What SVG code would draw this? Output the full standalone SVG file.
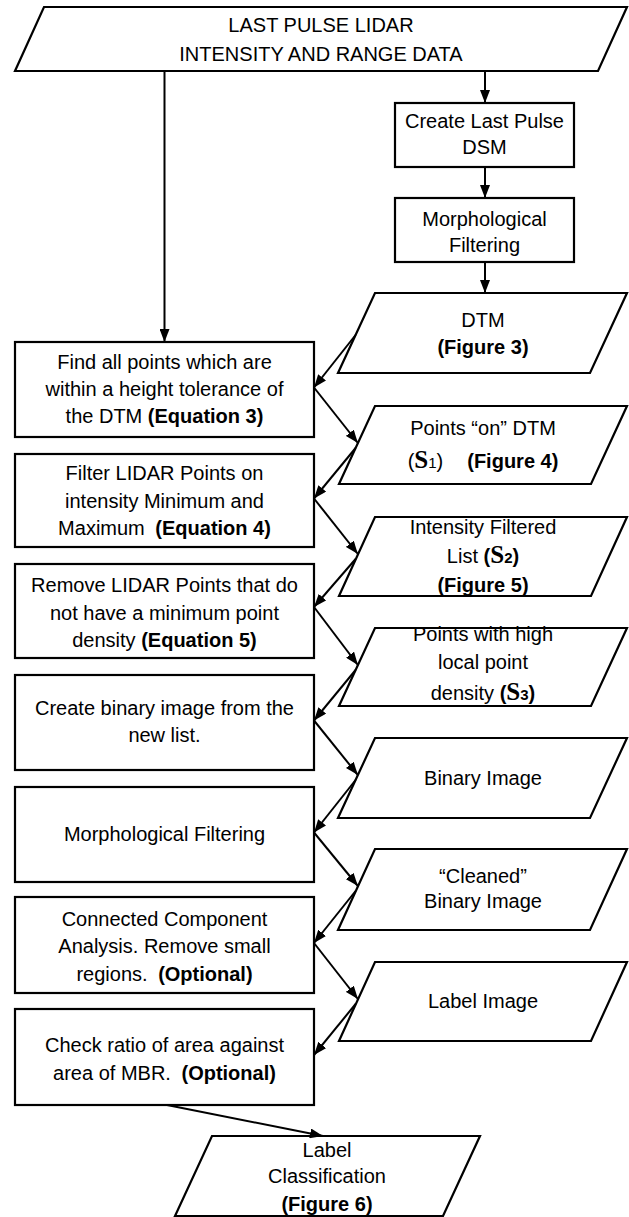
<svg xmlns="http://www.w3.org/2000/svg" width="629" height="1217" viewBox="0 0 629 1217">
  <style>
    .shape { fill: #fff; stroke: #000; stroke-width: 2.2; }
    .t { font-family: "Liberation Sans", Arial, sans-serif; font-size: 20px; text-anchor: middle; fill: #000; }
    .b { font-weight: bold; }
    .s { font-family: "Liberation Serif", "Times New Roman", serif; font-size: 25px; font-weight: bold; }
    .sub { font-size: 15px; }
    .c { fill: none; stroke: #000; stroke-width: 2; marker-end: url(#ah); }
  </style>
  <defs>
    <marker id="ah" markerUnits="userSpaceOnUse" markerWidth="13" markerHeight="10" refX="13" refY="5" orient="auto">
      <path d="M0,0 L13,5 L0,10 z" fill="#000"/>
    </marker>
  </defs>
  <rect width="629" height="1217" fill="#fff"/>

  <!-- input data -->
  <g id="input">
    <polygon class="shape" points="44,7 627,7 598,71 15,71"/>
    <text class="t" x="321" y="32">LAST PULSE LIDAR</text>
    <text class="t" x="321" y="61">INTENSITY AND RANGE DATA</text>
  </g>

  <!-- right column: surface model branch -->
  <g id="create-dsm">
    <rect class="shape" x="395" y="103" width="179" height="64"/>
    <text class="t" x="484.5" y="128">Create Last Pulse</text>
    <text class="t" x="484.5" y="154">DSM</text>
  </g>
  <g id="morph-dsm">
    <rect class="shape" x="395" y="198" width="179" height="64"/>
    <text class="t" x="484.5" y="226">Morphological</text>
    <text class="t" x="484.5" y="252">Filtering</text>
  </g>
  <g id="dtm">
    <polygon class="shape" points="375,293 627,293 590,373 338,373"/>
    <text class="t" x="483" y="327">DTM</text>
    <text class="t b" x="483" y="354">(Figure 3)</text>
  </g>
  <g id="points-on-dtm">
    <polygon class="shape" points="375,406 627,406 591,484 339,484"/>
    <text class="t" x="483" y="435">Points “on” DTM</text>
    <text class="t" x="483" y="468">(<tspan class="s">S</tspan><tspan class="sub">1</tspan>)<tspan class="b" dx="24">(Figure 4)</tspan></text>
  </g>
  <g id="intensity-list">
    <polygon class="shape" points="375,517 627,517 591,596 339,596"/>
    <text class="t" x="483" y="534">Intensity Filtered</text>
    <text class="t" x="483" y="563">List <tspan class="b">(</tspan><tspan class="s">S</tspan><tspan class="sub b">2</tspan><tspan class="b">)</tspan></text>
    <text class="t b" x="483" y="592">(Figure 5)</text>
  </g>
  <g id="dense-points">
    <polygon class="shape" points="375,628 627,628 591,706 339,706"/>
    <text class="t" x="483" y="641">Points with high</text>
    <text class="t" x="483" y="669">local point</text>
    <text class="t" x="483" y="700">density <tspan class="b">(</tspan><tspan class="s">S</tspan><tspan class="sub b">3</tspan><tspan class="b">)</tspan></text>
  </g>
  <g id="binary-image">
    <polygon class="shape" points="375,738 627,738 590,818 338,818"/>
    <text class="t" x="483" y="785">Binary Image</text>
  </g>
  <g id="cleaned-image">
    <polygon class="shape" points="375,849 627,849 590,930 338,930"/>
    <text class="t" x="483" y="883">“Cleaned”</text>
    <text class="t" x="483" y="908">Binary Image</text>
  </g>
  <g id="label-image">
    <polygon class="shape" points="375,962 627,962 591,1041 339,1041"/>
    <text class="t" x="483" y="1008">Label Image</text>
  </g>

  <!-- left column: processing steps -->
  <g id="height-check">
    <rect class="shape" x="15" y="342" width="299" height="95"/>
    <text class="t" x="164.5" y="369">Find all points which are</text>
    <text class="t" x="164.5" y="396">within a height tolerance of</text>
    <text class="t" x="164.5" y="423">the DTM <tspan class="b">(Equation 3)</tspan></text>
  </g>
  <g id="intensity-filter">
    <rect class="shape" x="15" y="454" width="299" height="93"/>
    <text class="t" x="164.5" y="480">Filter LIDAR Points on</text>
    <text class="t" x="164.5" y="508">intensity Minimum and</text>
    <text class="t" x="164.5" y="535">Maximum <tspan class="b" dx="5">(Equation 4)</tspan></text>
  </g>
  <g id="density-filter">
    <rect class="shape" x="15" y="564" width="299" height="94"/>
    <text class="t" x="164.5" y="592">Remove LIDAR Points that do</text>
    <text class="t" x="164.5" y="620">not have a minimum point</text>
    <text class="t" x="164.5" y="647">density <tspan class="b">(Equation 5)</tspan></text>
  </g>
  <g id="make-binary">
    <rect class="shape" x="15" y="675" width="299" height="95"/>
    <text class="t" x="164.5" y="715">Create binary image from the</text>
    <text class="t" x="164.5" y="742">new list.</text>
  </g>
  <g id="morph-binary">
    <rect class="shape" x="15" y="787" width="299" height="95"/>
    <text class="t" x="164.5" y="841">Morphological Filtering</text>
  </g>
  <g id="components">
    <rect class="shape" x="15" y="897" width="299" height="96"/>
    <text class="t" x="164.5" y="926">Connected Component</text>
    <text class="t" x="164.5" y="953">Analysis. Remove small</text>
    <text class="t" x="164.5" y="981">regions. <tspan class="b" dx="5">(Optional)</tspan></text>
  </g>
  <g id="mbr-ratio">
    <rect class="shape" x="15" y="1009" width="299" height="96"/>
    <text class="t" x="164.5" y="1052">Check ratio of area against</text>
    <text class="t" x="164.5" y="1080">area of MBR. <tspan class="b" dx="5">(Optional)</tspan></text>
  </g>

  <g id="classification">
    <polygon class="shape" points="212,1136 480,1136 443,1216 175,1216"/>
    <text class="t" x="327" y="1157">Label</text>
    <text class="t" x="327" y="1183">Classification</text>
    <text class="t b" x="327" y="1211">(Figure 6)</text>
  </g>

  <!-- connectors -->
  <g id="connectors">
    <path class="c" d="M485,71 V103"/>
    <path class="c" d="M485,167 V198"/>
    <path class="c" d="M485,262 V293"/>
    <path class="c" d="M164.5,71 V342"/>
    <path class="c" d="M355.6,335 L314,387.5"/>
    <path class="c" d="M314,387.5 L357.9,443"/>
    <path class="c" d="M355.6,448 L314,498.5"/>
    <path class="c" d="M314,498.5 L357.9,554"/>
    <path class="c" d="M355.6,559 L314,607"/>
    <path class="c" d="M314,607 L357.9,665"/>
    <path class="c" d="M355.6,670 L314,720.5"/>
    <path class="c" d="M314,720.5 L357.9,775"/>
    <path class="c" d="M355.6,780 L314,832.5"/>
    <path class="c" d="M314,832.5 L357.9,886"/>
    <path class="c" d="M355.6,891 L314,943"/>
    <path class="c" d="M314,943 L357.9,999"/>
    <path class="c" d="M355.6,1004 L314,1055"/>
    <path class="c" d="M167,1105 L323,1136"/>
  </g>
</svg>
